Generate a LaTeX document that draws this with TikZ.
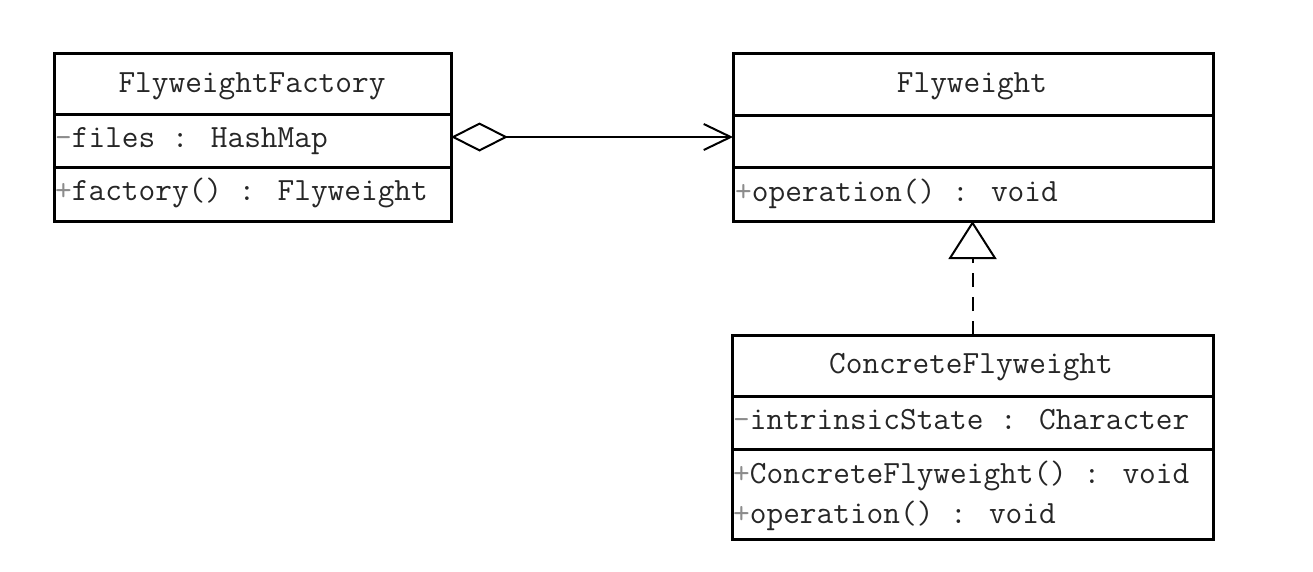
\documentclass[tikz,border=0pt]{standalone}
\usepackage{fontspec}
\usetikzlibrary{arrows.meta}
\newcommand{\vis}[1]{\textcolor{black!45}{#1}}
\begin{document}
\begin{tikzpicture}[x=1pt,y=-1pt,
  classbox/.style={draw,line width=3pt,rectangle,inner sep=0pt,outer sep=0pt,anchor=north west},
  divider/.style={line width=3pt},
  title/.style={font=\ttfamily\fontsize{32.4}{34}\selectfont,text=black!85,inner sep=0pt,anchor=base},
  member/.style={font=\ttfamily\fontsize{32.4}{34}\selectfont,text=black!85,inner sep=0pt,anchor=base west},
  link/.style={line width=2pt}]
\useasboundingbox (0,0) rectangle (1313,571);

% FlyweightFactory
\node[classbox,minimum width=397pt,minimum height=168pt] (fac) at (54,53) {};
\draw[divider] (54,114) -- (451,114);
\draw[divider] (54,167) -- (451,167);
\node[title] (facname) at (252,92) {FlyweightFactory};
\node[member] (facattr) at (55,147) {\vis{-}files : HashMap};
\node[member] (facop) at (55,200) {\vis{+}factory() : Flyweight};

% Flyweight
\node[classbox,minimum width=480pt,minimum height=168pt] (fw) at (733,53) {};
\draw[divider] (733,115) -- (1213,115);
\draw[divider] (733,167) -- (1213,167);
\node[title] (fwname) at (972,92) {Flyweight};
\node[member] (fwop) at (735,201) {\vis{+}operation() : void};

% ConcreteFlyweight
\node[classbox,minimum width=481pt,minimum height=204pt] (cf) at (732,335) {};
\draw[divider] (732,396) -- (1213,396);
\draw[divider] (732,449) -- (1213,449);
\node[title] (cfname) at (971,373) {ConcreteFlyweight};
\node[member] (cfattr) at (733,429) {\vis{-}intrinsicState : Character};
\node[member] (cfop1) at (733,483) {\vis{+}ConcreteFlyweight() : void};
\node[member] (cfop2) at (733,523) {\vis{+}operation() : void};

% aggregation FlyweightFactory -> Flyweight
\draw[link,{Diamond[open,length=57pt,width=29pt]}-{Straight Barb[length=27pt,width=26pt]}]
  (fac.east) -- (fw.west);

% realization ConcreteFlyweight -> Flyweight
\draw[link,dash pattern=on 14pt off 10pt,-{Triangle[open,length=38pt,width=48pt]}]
  (cf.north) -- (cf.north |- fw.south);
\end{tikzpicture}
\end{document}
